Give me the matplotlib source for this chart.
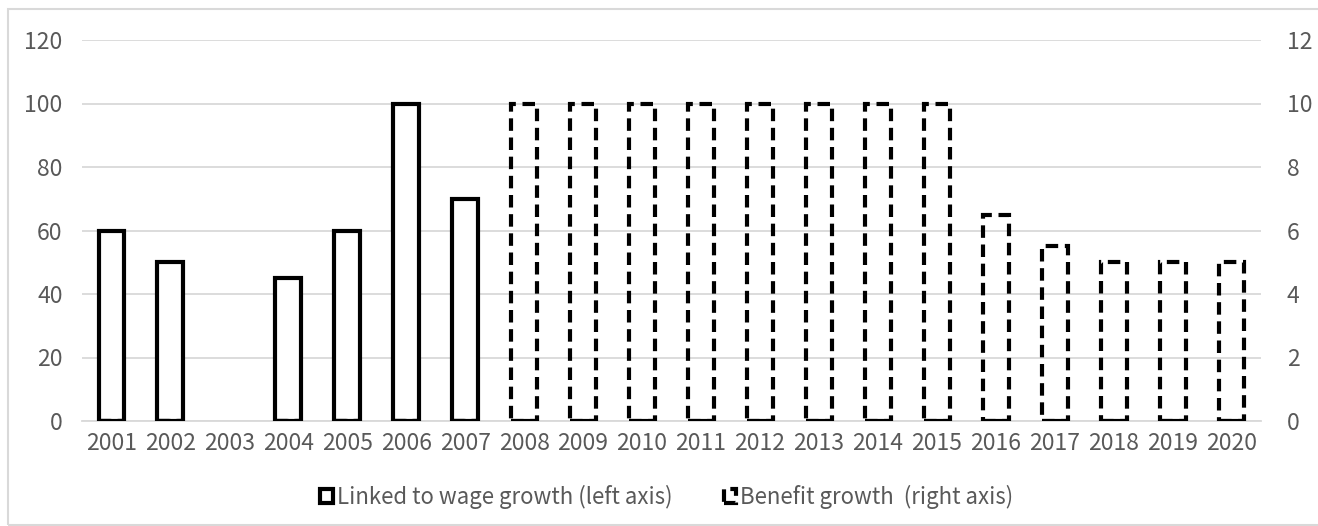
import numpy as np
import matplotlib
matplotlib.use('Agg')
import matplotlib.pyplot as plt
from matplotlib.patches import Rectangle, Patch

plt.rcParams['font.family'] = ['Noto Sans CJK SC', 'DejaVu Sans']

# data
years = [str(y) for y in range(2001, 2021)]
wage_linked = [60, 50, np.nan, 45, 60, 100, 70,
               0, 0, 0, 0, 0, 0, 0, 0, 0, 0, 0, 0, 0]
benefit_growth = [0, 0, np.nan, 0, 0, 0, 0,
                  10, 10, 10, 10, 10, 10, 10, 10, 6.5, 5.5, 5, 5, 5]

GRAY = '#595959'
GRID = '#d9d9d9'
DASH = (0, (3.0, 1.6))
LW = 3.0
FS = 16.5


def main():
    fig = plt.figure(figsize=(13.18, 5.26), dpi=100)
    # chart border
    fig.patches.append(Rectangle((8 / 1318, 0.002), 1.0, 516 / 526,
                                 transform=fig.transFigure, fill=False,
                                 edgecolor=GRID, linewidth=1.5))
    ax = fig.add_axes([82 / 1318, 105 / 526, 1179 / 1318, 381 / 526])
    ax2 = ax.twinx()
    x = np.arange(len(years))
    width = 0.44

    ax.bar(x, wage_linked, width=width, facecolor='white', edgecolor='black',
           linewidth=LW, zorder=3)
    ax2.bar(x, benefit_growth, width=width, facecolor='none',
            edgecolor='black', linewidth=LW, linestyle=DASH, zorder=3)

    ax.set_ylim(0, 120)
    ax.set_yticks(range(0, 121, 20))
    ax2.set_ylim(0, 12)
    ax2.set_yticks(range(0, 13, 2))
    ax.set_xlim(-0.5, len(years) - 0.5)
    ax.set_xticks(x)
    ax.set_xticklabels(years)
    ax.yaxis.grid(True, color=GRID, linewidth=1.3, zorder=0)
    ax.set_axisbelow(True)

    for a in (ax, ax2):
        for s in a.spines.values():
            s.set_visible(False)
        a.tick_params(length=0, labelsize=FS, labelcolor=GRAY)
    ax.tick_params(axis='y', pad=14)
    ax2.tick_params(axis='y', pad=18.5)
    ax.tick_params(axis='x', pad=8)
    ax.spines['bottom'].set_visible(True)
    ax.spines['bottom'].set_color(GRID)
    ax.spines['bottom'].set_linewidth(1.3)

    handles = [Patch(facecolor='white', edgecolor='black', linewidth=LW),
               Patch(facecolor='white', edgecolor='black', linewidth=LW,
                     linestyle=DASH)]
    labels = ['Linked to wage growth (left axis)',
              'Benefit growth  (right axis)']
    fig.legend(handles, labels, loc='center',
               bbox_to_anchor=(667 / 1318, 29 / 526), ncol=2, frameon=False,
               fontsize=16, labelcolor=GRAY, handlelength=0.55,
               handleheight=0.55, handletextpad=0.2, columnspacing=2.3)

    plt.savefig('out.png', dpi=100)


if __name__ == '__main__':
    main()
